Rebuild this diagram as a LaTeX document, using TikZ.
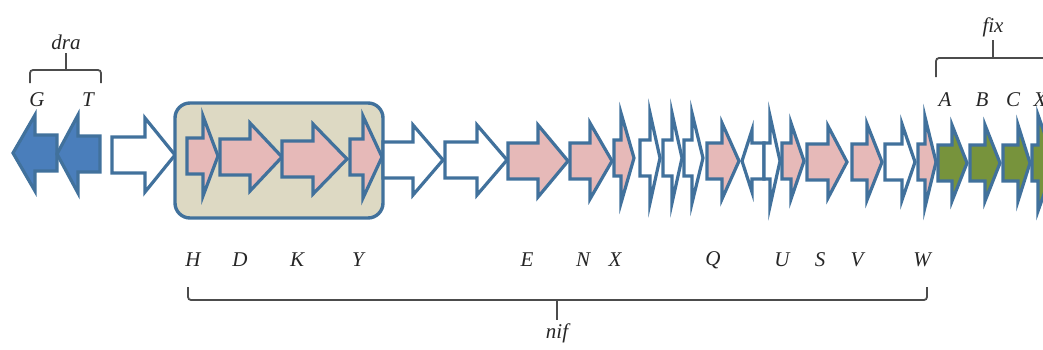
\documentclass[tikz,border=0pt]{standalone}
\usepackage{fontspec}
\setmainfont{Liberation Serif}

\definecolor{geneline}{RGB}{65,113,156}
\definecolor{drafill}{RGB}{74,126,187}
\definecolor{nifpink}{RGB}{230,185,184}
\definecolor{fixgreen}{RGB}{119,147,60}
\definecolor{clusterbg}{RGB}{221,217,195}

% gene arrow: fill, shaft start, head base, tip, centre y, head half-height
\newcommand{\gene}[6]{%
  \filldraw[gene, fill=#1] (#2,#5-18) -- (#3,#5-18) -- (#3,#5-#6) -- (#4,#5)
    -- (#3,#5+#6) -- (#3,#5+18) -- (#2,#5+18) -- cycle;}

\begin{document}
\begin{tikzpicture}[x=1pt, y=-1pt,
    gene/.style={draw=geneline, line width=3.2pt, line join=miter},
    lbl/.style={font=\fontsize{21}{24}\selectfont\itshape, text=black!85},
    brace/.style={draw=black!70, line width=1.8pt, rounded corners=3pt}]
  \useasboundingbox (0,0) rectangle (1043,349);
  \clip (0,0) rectangle (1043,349);

  % dra genes - pointing left
  \gene{drafill}{57}{35}{13}{153}{38}
  \gene{drafill}{100}{78}{57}{154}{39}
  \gene{white}{112}{145}{175}{155}{37}

  % nifHDKY cluster box
  \draw[geneline, line width=3.4pt, fill=clusterbg, rounded corners=15pt]
    (175,103) rectangle (383,218);
  \gene{nifpink}{187}{203}{218}{156}{40}
  \gene{nifpink}{220}{250}{282}{157}{34}
  \gene{nifpink}{282}{313}{347}{159}{35}
  \gene{nifpink}{350}{363}{382}{157}{41}

  % rest of the nif region
  \gene{white}{383}{413}{443}{160}{35}
  \gene{white}{445}{477}{507}{160}{35}
  \gene{nifpink}{508}{538}{568}{161}{36}
  \gene{nifpink}{570}{590}{612}{161}{38}
  \gene{nifpink}{614}{621}{634}{158}{45}
  \gene{white}{640}{650}{660}{158}{45}
  \gene{white}{663}{672}{682}{158}{45}
  \gene{white}{684}{692}{703}{158}{45}
  \gene{nifpink}{707}{722}{739}{161}{38}
  \gene{white}{764}{752}{742}{161}{31}
  \gene{white}{764}{770}{780}{161}{45}
  \gene{nifpink}{782}{791}{804}{161}{38}
  \gene{nifpink}{807}{828}{847}{162}{36}
  \gene{nifpink}{852}{867}{882}{162}{38}
  \gene{white}{885}{902}{915}{162}{38}
  \gene{nifpink}{918}{925}{936}{162}{45}

  % fix genes
  \gene{fixgreen}{938}{952}{967}{163}{38}
  \gene{fixgreen}{970}{985}{1000}{163}{38}
  \gene{fixgreen}{1003}{1018}{1030}{163}{38}
  \gene{fixgreen}{1032}{1038}{1055}{163}{48}

  % labels above
  \node[lbl] (gG) at (37,100) {G};
  \node[lbl] (gT) at (88,100) {T};
  \node[lbl] (gA) at (945,100) {A};
  \node[lbl] (gB) at (982,100) {B};
  \node[lbl] (gC) at (1013,100) {C};
  \node[lbl] (gX2) at (1040,100) {X};

  % labels below
  \node[lbl] (gH) at (193,260) {H};
  \node[lbl] (gD) at (240,260) {D};
  \node[lbl] (gK) at (297,260) {K};
  \node[lbl] (gY) at (358,260) {Y};
  \node[lbl] (gE) at (527,260) {E};
  \node[lbl] (gN) at (583,260) {N};
  \node[lbl] (gX) at (615,260) {X};
  \node[lbl] (gQ) at (713,260) {Q};
  \node[lbl] (gU) at (782,260) {U};
  \node[lbl] (gS) at (820,260) {S};
  \node[lbl] (gV) at (857,260) {V};
  \node[lbl] (gW) at (922,260) {W};

  % operon names
  \node[lbl] (dra) at (66,42) {dra};
  \node[lbl] (fix) at (993,27) {fix};
  \node[lbl] (nif) at (557,333) {nif};

  % braces
  \coordinate (draL) at (30,83);
  \coordinate (draR) at (101,83);
  \draw[brace] (draL) -- (30,70) -- (101,70) -- (draR);
  \draw[brace] (66,70) -- (dra.south);
  \coordinate (fixL) at (936,77);
  \coordinate (fixR) at (1060,77);
  \draw[brace] (fixL) -- (936,58) -- (1060,58);
  \draw[brace] (993,58) -- (fix.south);
  \coordinate (nifL) at (188,287);
  \coordinate (nifR) at (927,287);
  \draw[brace] (nifL) -- (188,300) -- (927,300) -- (nifR);
  \draw[brace] (557,300) -- (nif.north);
\end{tikzpicture}
\end{document}
